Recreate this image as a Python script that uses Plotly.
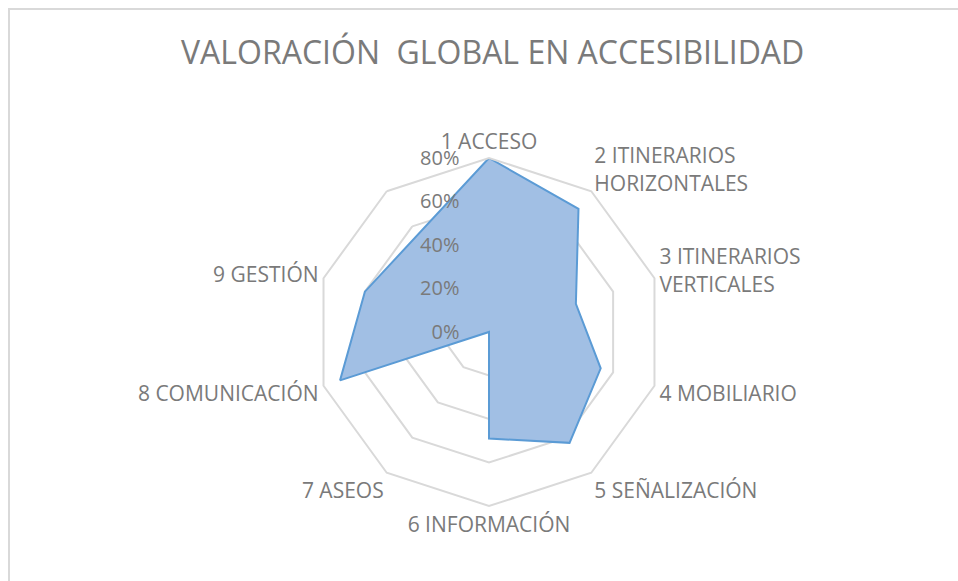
import plotly.graph_objects as go

# Accessibility scores per area (fraction of 1); the tenth spoke has no data
categories = ["1 ACCESO", "2 ITINERARIOS<br>HORIZONTALES", "3 ITINERARIOS<br>VERTICALES",
              "4 MOBILIARIO", "5 SEÑALIZACIÓN", "6 INFORMACIÓN", "7 ASEOS",
              "8 COMUNICACIÓN", "9 GESTIÓN", " "]
scores = [0.80, 0.70, 0.42, 0.54, 0.63, 0.49, 0.0, 0.72, 0.60, None]
radial_ticks = [0, 0.2, 0.4, 0.6, 0.8]
radial_labels = ["0%", "20%", "40%", "60%", "80%"]
title_text = "VALORACIÓN\u00a0 GLOBAL EN ACCESIBILIDAD"

W, H = 958, 581
cx, cy, R = 489, 332, 174
text_grey = "#7a7a7a"
font_family = "Open Sans"

# close the polygon back on the first category
theta = categories + [categories[0]]
r = scores + [scores[0]]

area_style = dict(
    r=r, theta=theta, mode="lines", fill="toself",
    fillcolor="#a1bfe4", connectgaps=True,
    line=dict(color="#5b9bd5", width=2),
    hoverinfo="skip", showlegend=False,
)
try:
    area = go.Scatterpolar(
        **area_style,
        fillgradient=dict(type="vertical",
                          colorscale=[[0, "#8fb3e0"], [1, "#b3cbe9"]]),
    )
except ValueError:
    area = go.Scatterpolar(**area_style)

fig = go.Figure(area)

fig.update_layout(
    width=W, height=H,
    margin=dict(l=0, r=0, t=0, b=0),
    paper_bgcolor="white",
    font=dict(family=font_family, color=text_grey),
    polar=dict(
        domain=dict(x=[(cx - R) / W, (cx + R) / W],
                    y=[(H - cy - R) / H, (H - cy + R) / H]),
        bgcolor="white",
        gridshape="linear",
        radialaxis=dict(
            range=[0, 0.8], tickvals=radial_ticks, ticktext=radial_labels,
            angle=90, tickangle=90, side="counterclockwise",
            showline=False, ticks="outside", ticklen=22,
            tickcolor="rgba(0,0,0,0)",
            gridcolor="#d9d9d9", gridwidth=2,
            tickfont=dict(size=20, color=text_grey),
        ),
        angularaxis=dict(
            type="category", categoryarray=categories,
            direction="clockwise", rotation=90,
            showgrid=False, showline=True, linecolor="#d9d9d9", linewidth=2,
            ticks="", tickfont=dict(size=21, color=text_grey),
        ),
    ),
    annotations=[dict(
        text=title_text, x=(cx + 3) / W, y=(H - 52) / H,
        xref="paper", yref="paper", xanchor="center", yanchor="middle",
        showarrow=False, font=dict(size=32, color=text_grey, family=font_family),
    )],
    shapes=[dict(
        type="rect", xref="paper", yref="paper",
        x0=9 / W, x1=1.05, y0=-0.05, y1=1 - 9 / H,
        line=dict(color="#d9d9d9", width=2), layer="below",
    )],
)

fig.write_html("out.html")
